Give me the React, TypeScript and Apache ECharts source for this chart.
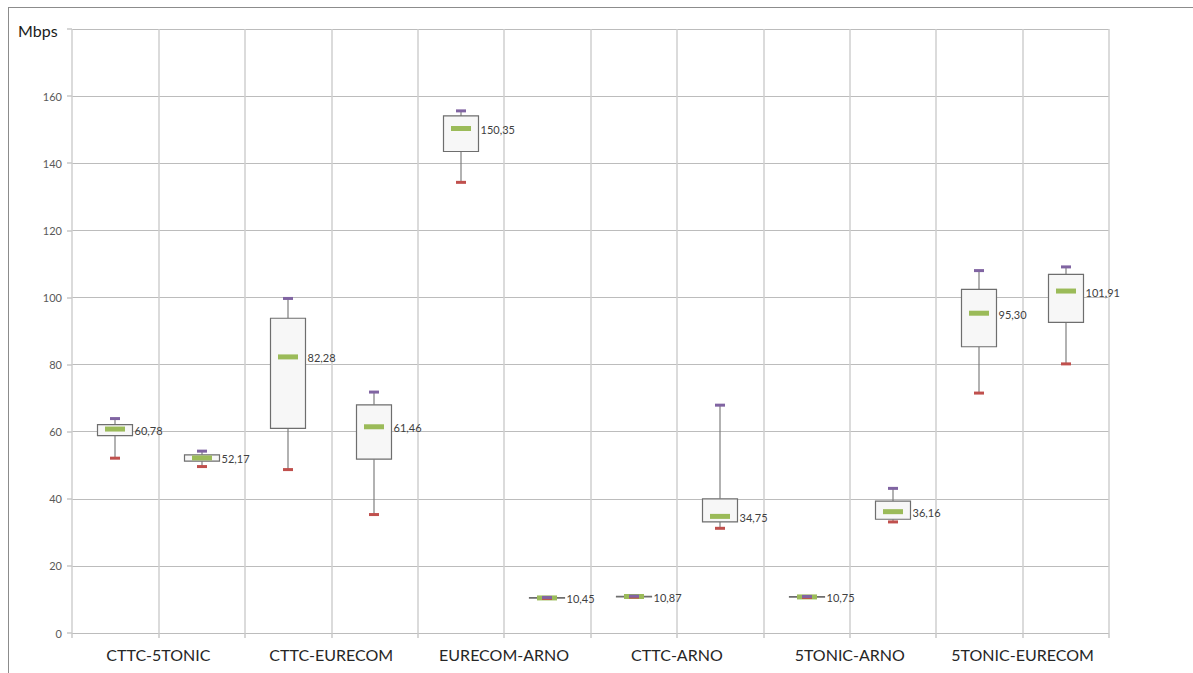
import React, { useEffect, useRef } from "react";
import * as echarts from "echarts";

const categories = ["CTTC-5TONIC", "CTTC-EURECOM", "EURECOM-ARNO", "CTTC-ARNO", "5TONIC-ARNO", "5TONIC-EURECOM"];
const yTicks = [0, 20, 40, 60, 80, 100, 120, 140, 160];
const mins = [52.1, 49.6, 48.7, 35.3, 134.3, 10.3, 10.7, 31.2, 10.6, 33.1, 71.5, 80.2];
const q1s = [58.8, 51.2, 61.0, 51.8, 143.5, 10.35, 10.75, 33.1, 10.65, 33.9, 85.3, 92.6];
const means = [60.78, 52.17, 82.28, 61.46, 150.35, 10.45, 10.87, 34.75, 10.75, 36.16, 95.3, 101.91];
const q3s = [62.1, 53.1, 93.8, 68.0, 154.1, 10.55, 10.95, 40.0, 10.85, 39.3, 102.4, 106.9];
const maxs = [63.9, 54.2, 99.7, 71.8, 155.6, 10.6, 11.0, 67.9, 10.9, 43.1, 108.0, 109.1];

const FONT = "Lato, 'Open Sans', sans-serif";

export default function App() {
  const ref = useRef<HTMLDivElement>(null);
  useEffect(() => {
    if (!ref.current) return;
    const chart = echarts.init(ref.current, undefined, { renderer: "svg" });
    const data = means.map((m, i) => [i + 0.5, mins[i], q1s[i], m, q3s[i], maxs[i]]);
    chart.setOption({
      animation: false,
      backgroundColor: "#fff",
      textStyle: { fontFamily: FONT },
      grid: { left: 72, top: 29, right: 84, bottom: 40, containLabel: false },
      graphic: [
        { type: "line", shape: { x1: 8, y1: 7.5, x2: 1193, y2: 7.5 }, style: { stroke: "#8c8c8c", lineWidth: 1 } },
        { type: "line", shape: { x1: 8.5, y1: 7, x2: 8.5, y2: 673 }, style: { stroke: "#8c8c8c", lineWidth: 1 } },
        { type: "text", left: 18, top: 22, style: { text: "Mbps", fontSize: 16, fontFamily: FONT, fill: "#1a1a1a" } },
      ],
      xAxis: [
        {
          type: "value",
          min: 0,
          max: 12,
          interval: 1,
          axisLabel: { show: false },
          axisLine: { show: false },
          axisTick: { show: true, length: 5, lineStyle: { color: "#c8c8c8", width: 1.5 } },
          splitLine: { show: true, lineStyle: { color: "#cfcfcf", width: 1.5 } },
        },
        {
          type: "category",
          position: "bottom",
          data: categories,
          boundaryGap: true,
          axisLine: { show: false },
          axisTick: { show: false },
          splitLine: { show: false },
          axisLabel: { interval: 0, fontSize: 16, color: "#262626", margin: 13, fontFamily: FONT },
        },
      ],
      yAxis: {
        type: "value",
        min: 0,
        max: 180,
        interval: 20,
        axisLine: { show: false },
        axisTick: { show: true, length: 5, lineStyle: { color: "#c8c8c8", width: 1.5 } },
        splitLine: { show: true, lineStyle: { color: "#bcbcbc", width: 1.2 } },
        axisLabel: {
          fontSize: 11,
          color: "#595959",
          margin: 10,
          fontFamily: FONT,
          formatter: (v: number) => (yTicks.includes(v) ? String(v) : ""),
        },
      },
      series: [
        {
          type: "custom",
          xAxisIndex: 0,
          yAxisIndex: 0,
          data,
          encode: { x: 0, y: [1, 2, 3, 4, 5] },
          renderItem: (params: any, api: any) => {
            const x = api.value(0);
            const pMin = api.coord([x, api.value(1)]);
            const pQ1 = api.coord([x, api.value(2)]);
            const pMean = api.coord([x, api.value(3)]);
            const pQ3 = api.coord([x, api.value(4)]);
            const pMax = api.coord([x, api.value(5)]);
            const cx = Math.round(pMean[0]);
            const bw = 35;
            const half = bw / 2;
            const label = api.value(3).toFixed(2).replace(".", ",");
            return {
              type: "group",
              children: [
                { type: "line", shape: { x1: cx, y1: pQ3[1], x2: cx, y2: pMax[1] }, style: { stroke: "#7f7f7f", lineWidth: 1.2 } },
                { type: "line", shape: { x1: cx, y1: pQ1[1], x2: cx, y2: pMin[1] }, style: { stroke: "#7f7f7f", lineWidth: 1.2 } },
                {
                  type: "rect",
                  shape: { x: cx - half, y: pQ3[1], width: bw, height: Math.max(pQ1[1] - pQ3[1], 0.5) },
                  style: { fill: "#f7f7f7", stroke: "#6e6e6e", lineWidth: 1.2 },
                },
                { type: "rect", shape: { x: cx - 10, y: pMean[1] - 2.5, width: 20, height: 5 }, style: { fill: "#9bbb59" } },
                { type: "rect", shape: { x: cx - 5, y: pMin[1] - 1.5, width: 10, height: 3 }, style: { fill: "#c0504d" } },
                { type: "rect", shape: { x: cx - 5, y: pMax[1] - 1.5, width: 10, height: 3 }, style: { fill: "#8064a2" } },
                {
                  type: "text",
                  x: cx + half + 2,
                  y: pMean[1] + 1,
                  style: { text: label, fontSize: 11, fontFamily: FONT, fill: "#404040", verticalAlign: "middle", align: "left" },
                },
              ],
            };
          },
        },
      ],
    });
    return () => chart.dispose();
  }, []);
  return <div ref={ref} style={{ position: "absolute", left: 0, top: 0, width: 1193, height: 673 }} />;
}
